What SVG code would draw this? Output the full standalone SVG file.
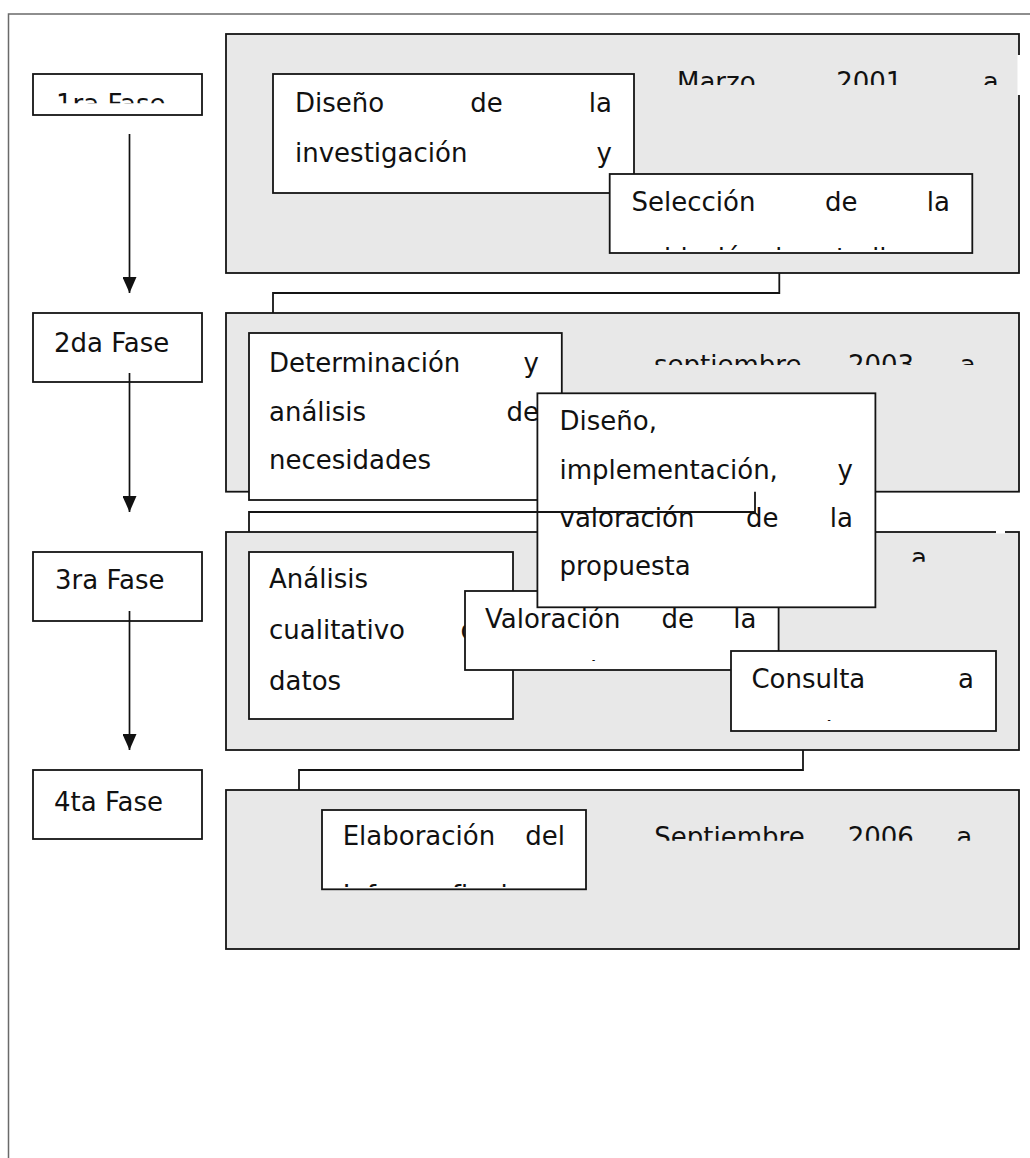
<svg xmlns="http://www.w3.org/2000/svg" width="1030" height="1158" viewBox="0 0 1030 1158">
  <style>
    .frame { fill: none; stroke: #6a6a6a; stroke-width: 1.5; }
    .panel { fill: #e8e8e8; stroke: #141414; stroke-width: 1.8; }
    .box { fill: #ffffff; stroke: #141414; stroke-width: 1.8; }
    .t { font-family: "DejaVu Sans", Verdana, sans-serif; font-size: 26px; fill: #111111; }
    .end { text-anchor: end; }
    .conn { fill: none; stroke: #141414; stroke-width: 1.8; }
    .arrow { fill: none; stroke: #111111; stroke-width: 1.7; }
  </style>
  <defs>
    <marker id="head" markerUnits="userSpaceOnUse" markerWidth="16" markerHeight="14" refX="16" refY="7" orient="auto">
      <path d="M0,0 L16,7 L0,14 Z" fill="#111111"/>
    </marker>
    <!-- text frames that cut their second line short -->
    <clipPath id="cut-fase1"><rect x="33" y="74" width="169" height="29.3"/></clipPath>
    <clipPath id="cut-date1"><rect x="660" y="34" width="360" height="51"/></clipPath>
    <clipPath id="cut-sel"><rect x="609" y="174" width="363" height="76"/></clipPath>
    <clipPath id="cut-date2"><rect x="640" y="313" width="380" height="52"/></clipPath>
    <clipPath id="cut-date3"><rect x="880" y="532" width="139" height="29.7"/></clipPath>
    <clipPath id="cut-valor"><rect x="465" y="591" width="314" height="70"/></clipPath>
    <clipPath id="cut-cons"><rect x="731" y="651" width="265" height="70"/></clipPath>
    <clipPath id="cut-date4"><rect x="640" y="790" width="379" height="50.7"/></clipPath>
    <clipPath id="cut-elab"><rect x="322" y="810" width="264" height="77"/></clipPath>
  </defs>

  <rect width="1030" height="1158" fill="#ffffff"/>

  <!-- page frame -->
  <path class="frame" d="M8.5,1158 V14 H1030"/>

  <!-- phase panels with their dates -->
  <g id="panel-1">
    <rect class="panel" x="226" y="34" width="793" height="239"/>
    <rect x="1017.5" y="55" width="4" height="40" fill="#ffffff"/>
    <g clip-path="url(#cut-date1)">
      <text class="t" x="677" y="91">Marzo</text>
      <text class="t" x="836.2" y="91">2001</text>
      <text class="t end" x="998.8" y="91">a</text>
    </g>
  </g>
  <g id="panel-2">
    <rect class="panel" x="226" y="313" width="793" height="178.7"/>
    <g clip-path="url(#cut-date2)">
      <text class="t" x="654" y="374">septiembre</text>
      <text class="t" x="847.9" y="374">2003</text>
      <text class="t end" x="975.7" y="374">a</text>
    </g>
  </g>
  <g id="panel-3">
    <rect class="panel" x="226" y="532" width="793" height="218"/>
    <rect x="996" y="530.5" width="9" height="3" fill="#ffffff"/>
    <g clip-path="url(#cut-date3)">
      <text class="t" x="911" y="567">a</text>
    </g>
  </g>
  <g id="panel-4">
    <rect class="panel" x="226" y="790" width="793" height="159"/>
    <g clip-path="url(#cut-date4)">
      <text class="t" x="654.3" y="845.7">Septiembre</text>
      <text class="t" x="847.7" y="845.7">2006</text>
      <text class="t end" x="972.3" y="845.7">a</text>
    </g>
  </g>

  <!-- phase labels -->
  <g id="fase-1">
    <rect class="box" x="33" y="74" width="169" height="41"/>
    <text class="t" x="56" y="113" clip-path="url(#cut-fase1)">1ra Fase</text>
  </g>
  <g id="fase-2">
    <rect class="box" x="33" y="313" width="169" height="69"/>
    <text class="t" x="54" y="352">2da Fase</text>
  </g>
  <g id="fase-3">
    <rect class="box" x="33" y="552" width="169" height="69"/>
    <text class="t" x="55" y="589">3ra Fase</text>
  </g>
  <g id="fase-4">
    <rect class="box" x="33" y="770" width="169" height="69"/>
    <text class="t" x="54" y="811">4ta Fase</text>
  </g>

  <!-- activities -->
  <g id="act-diseno-investigacion">
    <rect class="box" x="273" y="74" width="361" height="119"/>
    <text class="t" x="295" y="112">Diseño</text>
    <text class="t" x="470.2" y="112">de</text>
    <text class="t end" x="612" y="112">la</text>
    <text class="t" x="295" y="162">investigación</text>
    <text class="t end" x="612" y="162">y</text>
  </g>
  <g id="act-seleccion">
    <rect class="box" x="609.7" y="174" width="362.6" height="79"/>
    <text class="t" x="631.5" y="211">Selección</text>
    <text class="t" x="824.9" y="211">de</text>
    <text class="t end" x="950" y="211">la</text>
    <text class="t" x="631.5" y="267" clip-path="url(#cut-sel)">población de estudio</text>
  </g>
  <g id="act-necesidades">
    <rect class="box" x="249" y="333" width="312.8" height="167"/>
    <text class="t" x="269" y="372">Determinación</text>
    <text class="t end" x="539" y="372">y</text>
    <text class="t" x="269" y="420.5">análisis</text>
    <text class="t end" x="539" y="420.5">de</text>
    <text class="t" x="269" y="469">necesidades</text>
  </g>
  <g id="act-analisis">
    <rect class="box" x="249" y="552" width="264" height="167"/>
    <text class="t" x="269" y="588">Análisis</text>
    <text class="t" x="269" y="639">cualitativo</text>
    <text class="t end" x="493" y="639">de</text>
    <text class="t" x="269" y="690">datos</text>
  </g>
  <g id="act-valoracion">
    <rect class="box" x="465" y="591" width="313.6" height="79"/>
    <text class="t" x="485" y="628">Valoración</text>
    <text class="t" x="661.6" y="628">de</text>
    <text class="t end" x="756.5" y="628">la</text>
    <text class="t" x="485" y="679" clip-path="url(#cut-valor)">propuesta</text>
  </g>
  <g id="act-propuesta">
    <rect class="box" x="537.4" y="393.3" width="338" height="214"/>
    <text class="t" x="559.5" y="430">Diseño,</text>
    <text class="t" x="559.5" y="479">implementación,</text>
    <text class="t end" x="853" y="479">y</text>
    <text class="t" x="559.5" y="527">valoración</text>
    <text class="t" x="745.9" y="527">de</text>
    <text class="t end" x="853" y="527">la</text>
    <text class="t" x="559.5" y="575">propuesta</text>
  </g>
  <g id="act-consulta">
    <rect class="box" x="731" y="651" width="265" height="80"/>
    <text class="t" x="751.4" y="688">Consulta</text>
    <text class="t end" x="974" y="688">a</text>
    <text class="t" x="751.4" y="739" clip-path="url(#cut-cons)">expertos</text>
  </g>
  <g id="act-informe">
    <rect class="box" x="322" y="810" width="264" height="79.3"/>
    <text class="t" x="342.7" y="845">Elaboración</text>
    <text class="t end" x="565" y="845">del</text>
    <text class="t" x="342.7" y="904" clip-path="url(#cut-elab)">Informe final</text>
  </g>

  <!-- connectors -->
  <g id="connectors">
    <line class="arrow" x1="129.5" y1="134" x2="129.5" y2="293" marker-end="url(#head)"/>
    <line class="arrow" x1="129.5" y1="373" x2="129.5" y2="512" marker-end="url(#head)"/>
    <line class="arrow" x1="129.5" y1="611" x2="129.5" y2="750" marker-end="url(#head)"/>
    <path class="conn" d="M779.3,273 V293 H273 V313"/>
    <path class="conn" d="M755,491.7 V512 H249 V532"/>
    <path class="conn" d="M803,750 V770 H299 V790"/>
  </g>
</svg>
